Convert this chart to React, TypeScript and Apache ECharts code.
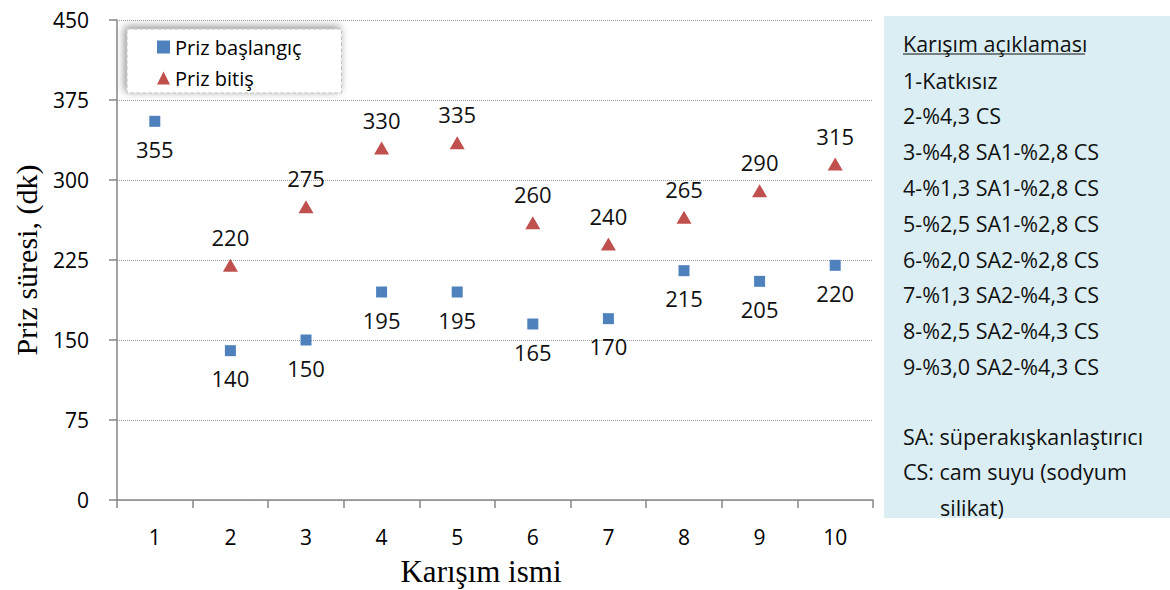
import React, { useEffect, useRef } from "react";
import * as echarts from "echarts";

const categories = ["1", "2", "3", "4", "5", "6", "7", "8", "9", "10"];
const prizBaslangic = [355, 140, 150, 195, 195, 165, 170, 215, 205, 220];
const prizBitis = [null, 220, 275, 330, 335, 260, 240, 265, 290, 315];
const yTicks = { min: 0, max: 450, interval: 75 };

const panelTitle = "Karışım açıklaması";
const panelLines = [
  "1-Katkısız",
  "2-%4,3 CS",
  "3-%4,8 SA1-%2,8 CS",
  "4-%1,3 SA1-%2,8 CS",
  "5-%2,5 SA1-%2,8 CS",
  "6-%2,0 SA2-%2,8 CS",
  "7-%1,3 SA2-%4,3 CS",
  "8-%2,5 SA2-%4,3 CS",
  "9-%3,0 SA2-%4,3 CS",
];
const panelNotes = ["SA: süperakışkanlaştırıcı", "CS: cam suyu (sodyum"];
const panelNoteCont = "silikat)";

const BLUE = "#4F81BD";
const RED = "#C0504D";
const FONT = "'Open Sans', 'Noto Sans', sans-serif";
const SERIF = "'Liberation Serif', 'DejaVu Serif', serif";

export default function App() {
  const ref = useRef<HTMLDivElement>(null);
  useEffect(() => {
    if (!ref.current) return;
    const chart = echarts.init(ref.current, null, { renderer: "svg" });

    const textStyle = (x: number, y: number, text: string) => ({
      type: "text",
      x,
      y,
      style: {
        text,
        fill: "#111",
        font: `21.5px ${FONT}`,
        textVerticalAlign: "middle",
      },
    });

    const graphics: any[] = [
      {
        type: "rect",
        shape: { x: 884, y: 16, width: 286, height: 502 },
        style: { fill: "#DAEEF3" },
        z: 0,
      },
      textStyle(903, 43, panelTitle),
      {
        type: "line",
        shape: { x1: 903, y1: 54, x2: 1085, y2: 54 },
        style: { stroke: "#111", lineWidth: 1.2 },
      },
    ];
    panelLines.forEach((t, i) => graphics.push(textStyle(903, 80 + i * 35.8, t)));
    panelNotes.forEach((t, i) => graphics.push(textStyle(903, 436 + i * 35.5, t)));
    graphics.push(textStyle(940, 507, panelNoteCont));
    graphics.push({
      type: "text",
      x: 481,
      y: 571,
      style: {
        text: "Karışım ismi",
        fill: "#000",
        font: `31px ${SERIF}`,
        textAlign: "center",
        textVerticalAlign: "middle",
      },
    });
    graphics.push({
      type: "text",
      x: 26,
      y: 260,
      rotation: Math.PI / 2,
      style: {
        text: "Priz süresi, (dk)",
        fill: "#000",
        font: `30px ${SERIF}`,
        textAlign: "center",
        textVerticalAlign: "middle",
      },
    });

    chart.setOption({
      animation: false,
      backgroundColor: "#fff",
      grid: { left: 117, right: 297, top: 20, bottom: 90, containLabel: false },
      legend: {
        orient: "vertical",
        left: 127,
        top: 29,
        padding: [8, 40, 5, 30],
        itemWidth: 13,
        itemHeight: 13,
        itemGap: 11,
        backgroundColor: "#fff",
        borderColor: "#bbb",
        borderWidth: 1,
        borderType: "dashed",
        shadowColor: "rgba(0,0,0,0.45)",
        shadowBlur: 8,
        shadowOffsetX: -2,
        shadowOffsetY: -2,
        textStyle: { fontFamily: FONT, fontSize: 20, lineHeight: 20, color: "#000" },
        data: [
          { name: "Priz başlangıç", icon: "rect" },
          { name: "Priz bitiş", icon: "triangle" },
        ],
      },
      xAxis: {
        type: "category",
        data: categories,
        boundaryGap: true,
        axisLine: { lineStyle: { color: "#868686", width: 1.5 } },
        axisTick: { show: true, length: 8, alignWithLabel: false, lineStyle: { color: "#868686", width: 1.5 } },
        axisLabel: { fontFamily: FONT, fontSize: 21, color: "#000", margin: 26 },
        splitLine: { show: false },
      },
      yAxis: {
        type: "value",
        min: yTicks.min,
        max: yTicks.max,
        interval: yTicks.interval,
        axisLine: { show: true, lineStyle: { color: "#868686", width: 1.5 } },
        axisTick: { show: true, length: 8, lineStyle: { color: "#868686", width: 1.5 } },
        axisLabel: { fontFamily: FONT, fontSize: 21, color: "#000", margin: 28 },
        splitLine: { show: true, lineStyle: { color: "#999", type: "dotted", width: 1 } },
      },
      series: [
        {
          name: "Priz başlangıç",
          type: "scatter",
          data: prizBaslangic,
          symbol: "rect",
          symbolSize: 11,
          itemStyle: { color: BLUE, opacity: 1 },
          label: {
            show: true,
            position: "bottom",
            distance: 11,
            fontFamily: FONT,
            fontSize: 22,
            color: "#111",
          },
        },
        {
          name: "Priz bitiş",
          type: "scatter",
          data: prizBitis,
          symbol: "triangle",
          symbolSize: [15, 13],
          itemStyle: { color: RED, opacity: 1 },
          label: {
            show: true,
            position: "top",
            distance: 11,
            fontFamily: FONT,
            fontSize: 22,
            color: "#111",
          },
        },
      ],
      graphic: graphics,
    });
    return () => chart.dispose();
  }, []);
  return (
    <div
      ref={ref}
      style={{ position: "absolute", left: 0, top: 0, width: 1170, height: 590 }}
    />
  );
}
